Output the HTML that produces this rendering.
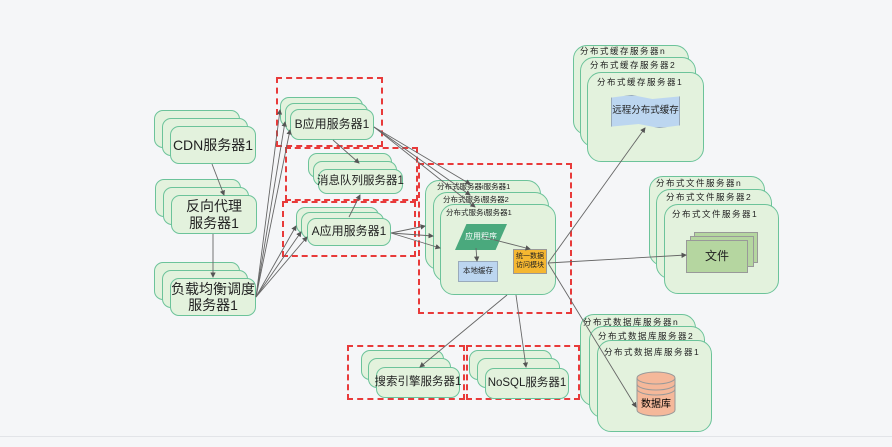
<!DOCTYPE html>
<html><head><meta charset="utf-8"><style>
body{margin:0;width:892px;height:447px;background:#f5f6f8;position:relative;overflow:hidden;font-family:"Liberation Sans","Noto Sans CJK SC",sans-serif;color:#222}
.b{position:absolute;background:#e3f2dd;border:1.5px solid #6cc39a;border-radius:9px;box-sizing:border-box}
.t{position:absolute;display:flex;align-items:center;justify-content:center;text-align:center;line-height:1.15;white-space:nowrap}
.r{position:absolute;border:2px dashed #e83a3a;box-sizing:border-box}
.s{position:absolute;font-size:8.5px;letter-spacing:1.5px;white-space:nowrap}
</style></head><body>
<div style="position:absolute;left:0;top:436px;width:892px;height:1px;background:#e2e4e8"></div>

<!-- CDN -->
<div class="b" style="left:154px;top:110px;width:86px;height:38px"></div>
<div class="b" style="left:162px;top:118px;width:86px;height:38px"></div>
<div class="b t" style="left:170px;top:126px;width:86px;height:38px;font-size:14px">CDN服务器1</div>
<!-- proxy -->
<div class="b" style="left:155px;top:179px;width:86px;height:38px"></div>
<div class="b" style="left:163px;top:187px;width:86px;height:38px"></div>
<div class="b t" style="left:171px;top:195px;width:86px;height:39px;font-size:14px">反向代理<br>服务器1</div>
<!-- LB -->
<div class="b" style="left:154px;top:262px;width:86px;height:38px"></div>
<div class="b" style="left:162px;top:270px;width:86px;height:38px"></div>
<div class="b t" style="left:170px;top:278px;width:86px;height:38px;font-size:14px">负载均衡调度<br>服务器1</div>

<!-- red boxes -->
<div class="r" style="left:276px;top:77px;width:107px;height:70px"></div>
<div class="r" style="left:285px;top:147px;width:133px;height:54px"></div>
<div class="r" style="left:282px;top:201px;width:134px;height:56px"></div>
<div class="r" style="left:418px;top:163px;width:154px;height:151px"></div>
<div class="r" style="left:347px;top:345px;width:118px;height:55px"></div>
<div class="r" style="left:466px;top:345px;width:114px;height:55px"></div>

<!-- B -->
<div class="b" style="left:280px;top:97px;width:83px;height:30px"></div>
<div class="b" style="left:285px;top:103px;width:83px;height:30px"></div>
<div class="b t" style="left:290px;top:109px;width:84px;height:31px;font-size:12px">B应用服务器1</div>
<!-- MQ -->
<div class="b" style="left:308px;top:153px;width:84px;height:25px"></div>
<div class="b" style="left:313px;top:161px;width:84px;height:25px"></div>
<div class="b t" style="left:318px;top:169px;width:85px;height:25px;font-size:11.5px">消息队列服务器1</div>
<!-- A -->
<div class="b" style="left:296px;top:207px;width:83px;height:27px"></div>
<div class="b" style="left:301px;top:212px;width:83px;height:27px"></div>
<div class="b t" style="left:307px;top:218px;width:84px;height:28px;font-size:12px">A应用服务器1</div>

<!-- distributed service -->
<div class="b" style="left:425px;top:180px;width:116px;height:90px;border-radius:14px"></div>
<div class="s" style="left:437px;top:181px;font-size:7.5px;letter-spacing:0">分布式服务器i服务器1</div>
<div class="b" style="left:433px;top:192px;width:116px;height:90px;border-radius:14px"></div>
<div class="s" style="left:443px;top:194px;font-size:7.5px;letter-spacing:0">分布式服务i服务器2</div>
<div class="b" style="left:440px;top:204px;width:116px;height:91px;border-radius:14px"></div>
<div class="s" style="left:446px;top:207px;font-size:7.5px;letter-spacing:0">分布式服务i服务器1</div>
<div class="t" style="left:455px;top:224px;width:52px;height:26px;background:#4aa97d;color:#fff;font-size:8px;clip-path:polygon(22% 0,100% 0,78% 100%,0 100%)">应用程序</div>
<div class="t" style="left:458px;top:261px;width:40px;height:21px;background:#bcd6f0;border:1px solid #9ab;box-sizing:border-box;font-size:7.5px">本地缓存</div>
<div class="t" style="left:513px;top:249px;width:34px;height:25px;background:#f5b731;border:1px solid #999;box-sizing:border-box;font-size:7px">统一数据<br>访问模块</div>

<!-- cache servers -->
<div class="b" style="left:573px;top:45px;width:116px;height:90px;border-radius:14px"></div>
<div class="s" style="left:580px;top:45px">分布式缓存服务器n</div>
<div class="b" style="left:580px;top:57px;width:116px;height:90px;border-radius:14px"></div>
<div class="s" style="left:590px;top:59px">分布式缓存服务器2</div>
<div class="b" style="left:587px;top:72px;width:117px;height:90px;border-radius:14px"></div>
<div class="s" style="left:597px;top:76px">分布式缓存服务器1</div>
<div class="t" style="left:611px;top:95px;width:69px;height:33px;background:#bcd6f0;border:1px solid #9ab;box-sizing:border-box;font-size:9.5px;clip-path:polygon(0 8%,30% 0,60% 12%,100% 4%,100% 92%,70% 100%,40% 88%,0 96%)">远程分布式缓存</div>

<!-- file servers -->
<div class="b" style="left:649px;top:176px;width:116px;height:90px;border-radius:14px"></div>
<div class="s" style="left:656px;top:177px">分布式文件服务器n</div>
<div class="b" style="left:656px;top:189px;width:116px;height:90px;border-radius:14px"></div>
<div class="s" style="left:666px;top:191px">分布式文件服务器2</div>
<div class="b" style="left:664px;top:204px;width:115px;height:90px;border-radius:14px"></div>
<div class="s" style="left:672px;top:208px">分布式文件服务器1</div>
<div style="position:absolute;left:694px;top:232px;width:62px;height:29px;background:#b5d6a0;border:1px solid #999"></div>
<div style="position:absolute;left:690px;top:236px;width:62px;height:29px;background:#b5d6a0;border:1px solid #999"></div>
<div class="t" style="left:686px;top:240px;width:62px;height:33px;background:#b5d6a0;border:1px solid #999;box-sizing:border-box;font-size:12px">文件</div>

<!-- db servers -->
<div class="b" style="left:580px;top:314px;width:116px;height:92px;border-radius:14px"></div>
<div class="s" style="left:583px;top:316px">分布式数据库服务器n</div>
<div class="b" style="left:589px;top:326px;width:116px;height:92px;border-radius:14px"></div>
<div class="s" style="left:598px;top:330px">分布式数据库服务器2</div>
<div class="b" style="left:597px;top:340px;width:115px;height:92px;border-radius:14px"></div>
<div class="s" style="left:604px;top:346px">分布式数据库服务器1</div>
<svg style="position:absolute;left:634px;top:370px" width="44" height="48"><path d="M3 8 V40 A19 6 0 0 0 41 40 V8" fill="#f5b89a" stroke="#999"/><ellipse cx="22" cy="8" rx="19" ry="6" fill="#f5b89a" stroke="#999"/><path d="M3 14 A19 6 0 0 0 41 14 M3 19 A19 6 0 0 0 41 19" fill="none" stroke="#999"/><text x="22" y="37" font-size="10" text-anchor="middle" font-family="Liberation Sans,Noto Sans CJK SC,sans-serif">数据库</text></svg>

<!-- search / nosql -->
<div class="b" style="left:361px;top:350px;width:83px;height:30px"></div>
<div class="b" style="left:368px;top:358px;width:83px;height:30px"></div>
<div class="b t" style="left:376px;top:367px;width:84px;height:31px;font-size:11.5px">搜索引擎服务器1</div>
<div class="b" style="left:469px;top:350px;width:83px;height:30px"></div>
<div class="b" style="left:477px;top:358px;width:83px;height:30px"></div>
<div class="b t" style="left:485px;top:368px;width:84px;height:31px;font-size:11.5px">NoSQL服务器1</div>

<svg style="position:absolute;left:0;top:0" width="892" height="447">
<defs><marker id="a" markerWidth="6" markerHeight="6" refX="5" refY="3" orient="auto"><path d="M0 0 L6 3 L0 6z" fill="#555"/></marker></defs>
<g stroke="#666" stroke-width="0.9" fill="none" marker-end="url(#a)">
<line x1="212" y1="164" x2="224" y2="195"/>
<line x1="213" y1="234" x2="213" y2="277"/>
<line x1="256" y1="297" x2="280" y2="110"/>
<line x1="256" y1="297" x2="285" y2="122"/>
<line x1="256" y1="297" x2="290" y2="130"/>
<line x1="256" y1="297" x2="296" y2="226"/>
<line x1="256" y1="297" x2="301" y2="232"/>
<line x1="256" y1="297" x2="307" y2="237"/>
<line x1="333" y1="140" x2="359" y2="163"/>
<line x1="349" y1="217" x2="360" y2="195"/>
<line x1="374" y1="127" x2="470" y2="184"/>
<line x1="374" y1="127" x2="470" y2="195"/>
<line x1="374" y1="127" x2="475" y2="207"/>
<line x1="391" y1="233" x2="425" y2="226"/>
<line x1="391" y1="233" x2="433" y2="236"/>
<line x1="391" y1="233" x2="440" y2="248"/>
<line x1="483" y1="237" x2="530" y2="249"/>
<line x1="476" y1="248" x2="477" y2="261"/>
<line x1="548" y1="263" x2="645" y2="128"/>
<line x1="548" y1="263" x2="686" y2="255"/>
<line x1="548" y1="263" x2="636" y2="407"/>
<line x1="507" y1="295" x2="420" y2="367"/>
<line x1="516" y1="295" x2="526" y2="367"/>
</g></svg>
</body></html>
